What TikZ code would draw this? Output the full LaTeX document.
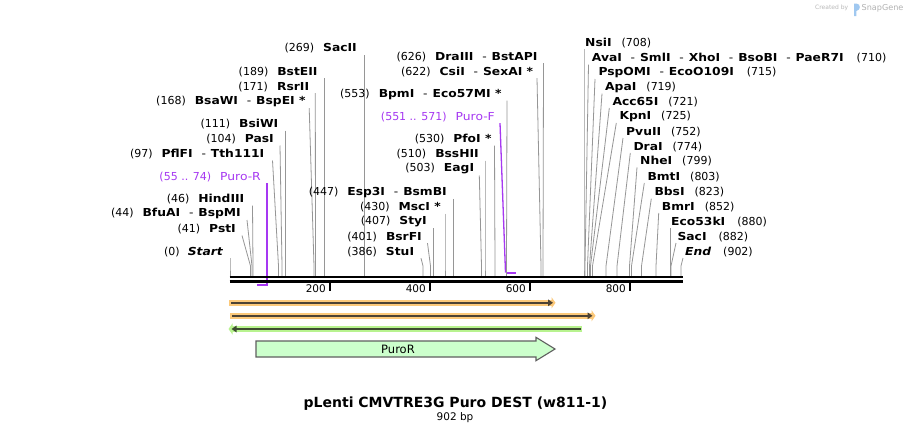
\documentclass[tikz,border=0pt]{standalone}
\usepackage{fontspec}
\setmainfont{DejaVu Sans}
\newfontfamily\enzf[FakeStretch=1.12]{DejaVu Sans}
\usetikzlibrary{arrows.meta}
\definecolor{enzgray}{RGB}{150,150,150}
\definecolor{purp}{RGB}{166,56,242}
\definecolor{orband}{RGB}{252,201,122}
\definecolor{grband}{RGB}{184,243,143}
\definecolor{darkln}{RGB}{76,66,52}
\definecolor{darkgr}{RGB}{62,76,50}
\definecolor{purofill}{RGB}{204,255,204}
\definecolor{purodraw}{RGB}{95,95,95}
\definecolor{logoblue}{RGB}{160,200,240}
\newcommand\enzname[1]{{\enzf\bfseries #1}}
\newcommand\enzdash{\hspace{0.8em}{\mdseries -}\hspace{0.45em}}
\tikzset{
  enz/.style={draw=enzgray, line width=0.8pt},
  lblL/.style={anchor=east, inner sep=0pt, font=\fontsize{11}{13}\selectfont},
  lblR/.style={anchor=west, inner sep=0pt, font=\fontsize{11}{13}\selectfont},
  primerthin/.style={draw=purp, line width=1.3pt},
  primerthick/.style={draw=purp, line width=2pt},
  backbone/.style={draw=black, line width=2.6pt},
  tickmark/.style={draw=black, line width=1.8pt},
  ticklbl/.style={anchor=east, inner sep=0pt, font=\fontsize{10.5}{12}\selectfont},
}
% id, bp, text-end x, text-centre y, dx to line top, label
\newcommand\EnzL[6]{%
  \node[lblL] (n#1) at (#3,#4) {#6};
  \coordinate (k#1) at ({230+0.5*#2},266);
  \coordinate (c#1) at ({230+0.5*#2},276);
  \draw[enz] ([shift={(#5,6.5)}]n#1.east) -- (k#1) -- (c#1);
}
% id, bp, text-start x, text-centre y, dx to line top, label
\newcommand\EnzR[6]{%
  \node[lblR] (n#1) at (#3,#4) {#6};
  \coordinate (k#1) at ({230+0.5*#2},266);
  \coordinate (c#1) at ({230+0.5*#2},276);
  \draw[enz] ([shift={(-#5,6.3)}]n#1.west) -- (k#1) -- (c#1);
}
\begin{document}
\begin{tikzpicture}[x=1pt,y=-1pt]
\useasboundingbox (0,0) rectangle (912,434);
\fill[white] (0,0) rectangle (912,434);

% created by
\node[anchor=west, inner sep=0pt, text=gray!55, font=\fontsize{6}{7}\selectfont] (cb) at (815,8.3) {Created by};
\fill[logoblue] (854,3.5) -- (854,16) -- (856.3,16) -- (856.3,11) .. controls (861,10.5) and (861,3.5) .. (856.3,3.5) -- cycle;
\node[anchor=west, inner sep=0pt, text=gray!60, font=\fontsize{8.1}{9}\selectfont] (sg) at (861.5,8.3) {SnapGene};

% primers
\node[lblL, text=purp] (nPR) at (261,176.7) {(55 .. 74)\hspace{9pt}{\enzf Puro-R}};
\coordinate (pr2) at (267,284.5);
\coordinate (pr3) at (257,284.5);
\draw[primerthin] ([shift={(6,6.3)}]nPR.east) -- (pr2);
\draw[primerthick] ([xshift=0.65pt]pr2) -- (pr3);

\node[lblL, text=purp] (nPF) at (495,117.3) {(551 .. 571)\hspace{9pt}{\enzf Puro-F}};
\coordinate (pf2) at (505.5,272.5);
\coordinate (pf3) at (515.5,272.5);
\draw[primerthin] ([shift={(5,5.8)}]nPF.east) -- (pf2);
\draw[primerthick] (pf2) -- (pf3);

% left enzymes
\EnzL{L1}{0}{223}{251.7}{7}{(0)\hspace{8pt}{\enzf\bfseries\itshape Start}}
\EnzL{L2}{41}{236}{229}{6}{(41)\hspace{9pt}\enzname{PstI}}
\EnzL{L3}{44}{241}{213.5}{6}{(44)\hspace{9pt}\enzname{BfuAI\enzdash BspMI}}
\EnzL{L4}{46}{244.5}{199}{8}{(46)\hspace{9pt}\enzname{HindIII}}
\EnzL{L6}{97}{264.5}{154}{8}{(97)\hspace{9pt}\enzname{PflFI\enzdash Tth111I}}
\EnzL{L7}{104}{274}{139}{6}{(104)\hspace{9pt}\enzname{PasI}}
\EnzL{L8}{111}{278.5}{124}{7}{(111)\hspace{9pt}\enzname{BsiWI}}
\EnzL{L9}{168}{305.7}{101.7}{3.5}{(168)\hspace{9pt}\enzname{BsaWI\enzdash BspEI *}}
\EnzL{L10}{171}{309.3}{86.7}{6}{(171)\hspace{9pt}\enzname{RsrII}}
\EnzL{L11}{189}{317.7}{71.7}{6.8}{(189)\hspace{9pt}\enzname{BstEII}}
\EnzL{L12}{269}{357}{48.5}{7.5}{(269)\hspace{9pt}\enzname{SacII}}

% middle enzymes
\EnzL{M1}{386}{414.3}{251.7}{6.7}{(386)\hspace{9pt}\enzname{StuI}}
\EnzL{M2}{401}{422}{236.7}{5.5}{(401)\hspace{9pt}\enzname{BsrFI}}
\EnzL{M3}{407}{427}{221.7}{6.5}{(407)\hspace{9pt}\enzname{StyI}}
\EnzL{M4}{430}{441}{207.3}{4}{(430)\hspace{9pt}\enzname{MscI *}}
\EnzL{M5}{447}{447}{192.3}{6.5}{(447)\hspace{9pt}\enzname{Esp3I\enzdash BsmBI}}
\EnzL{M6}{503}{474.3}{169}{5}{(503)\hspace{9pt}\enzname{EagI}}
\EnzL{M7}{510}{479}{154}{6}{(510)\hspace{9pt}\enzname{BssHII}}
\EnzL{M8}{530}{491.7}{139}{2.8}{(530)\hspace{9pt}\enzname{PfoI *}}
\EnzL{M10}{553}{501.7}{94}{5.3}{(553)\hspace{9pt}\enzname{BpmI\enzdash Eco57MI *}}
\EnzL{M11}{622}{533.3}{71.7}{3.7}{(622)\hspace{9pt}\enzname{CsiI\enzdash SexAI *}}
\EnzL{M12}{626}{537.7}{56.7}{5.8}{(626)\hspace{9pt}\enzname{DraIII\enzdash BstAPI}}

% right enzymes
\EnzR{R1}{708}{585}{42.7}{1}{\enzname{NsiI}\hspace{10pt}(708)}
\EnzR{R2}{710}{591.7}{58.3}{3.2}{\enzname{AvaI\enzdash SmlI\enzdash XhoI\enzdash BsoBI\enzdash PaeR7I}\hspace{13pt}(710)}
\EnzR{R3}{715}{598.3}{72.7}{3.3}{\enzname{PspOMI\enzdash EcoO109I}\hspace{13pt}(715)}
\EnzR{R4}{719}{605}{87.3}{3}{\enzname{ApaI}\hspace{10pt}(719)}
\EnzR{R5}{721}{612.3}{101.7}{3}{\enzname{Acc65I}\hspace{10pt}(721)}
\EnzR{R6}{725}{619.3}{116.7}{3}{\enzname{KpnI}\hspace{10pt}(725)}
\EnzR{R7}{752}{626}{131.7}{3}{\enzname{PvuII}\hspace{10pt}(752)}
\EnzR{R8}{774}{633.3}{146.7}{3}{\enzname{DraI}\hspace{10pt}(774)}
\EnzR{R9}{799}{640}{161}{3}{\enzname{NheI}\hspace{10pt}(799)}
\EnzR{R10}{803}{647.3}{176.7}{3}{\enzname{BmtI}\hspace{10pt}(803)}
\EnzR{R11}{823}{654.3}{192.3}{3}{\enzname{BbsI}\hspace{10pt}(823)}
\EnzR{R12}{852}{661.7}{206.7}{3}{\enzname{BmrI}\hspace{10pt}(852)}
\EnzR{R13}{880}{671}{221.7}{1}{\enzname{Eco53kI}\hspace{12pt}(880)}
\EnzR{R14}{882}{677.3}{236.7}{1.3}{\enzname{SacI}\hspace{12pt}(882)}
\EnzR{R15}{902}{685}{251.7}{2}{{\enzf\bfseries\itshape End}\hspace{12pt}(902)}

% backbone
\draw[backbone] (229.5,277) -- (682.5,277);
\draw[backbone] (229.5,281.2) -- (682.5,281.2);

% ticks
\foreach \v/\xx in {200/330,400/430,600/530,800/630}{
  \draw[tickmark] (\xx,282) -- (\xx,290.5);
  \node[ticklbl] (tk\v) at (\xx-4,289) {\v};
}

% features
\draw[orband, line width=5.6pt, -{Triangle[length=4pt,width=11pt]}] (229,302.8) -- (555.5,302.8);
\draw[darkln, line width=1.8pt, -{Triangle[length=5pt,width=6.5pt]}] (231,302.8) -- (553,302.8);

\draw[orband, line width=5.6pt, -{Triangle[length=4pt,width=11pt]}] (230,315.8) -- (595.5,315.8);
\draw[darkln, line width=1.8pt, -{Triangle[length=5pt,width=6.5pt]}] (232,315.8) -- (592.5,315.8);

\draw[grband, line width=5.6pt, -{Triangle[length=4pt,width=11pt]}] (582,329) -- (228.5,329);
\draw[darkgr, line width=1.8pt, -{Triangle[length=5pt,width=6.5pt]}] (580.5,329) -- (231.5,329);

\draw[fill=purofill, draw=purodraw, line width=1.1pt, line join=miter]
  (256,341) -- (536,341) -- (536,337.3) -- (555,349) -- (536,360.7) -- (536,357) -- (256,357) -- cycle;
\node[inner sep=0pt, font=\fontsize{11.5}{13}\selectfont] (puroR) at (398,349) {PuroR};

% title
\node[inner sep=0pt, font=\fontsize{14}{16}\bfseries] (title) at (455.5,403.3) {pLenti CMVTRE3G Puro DEST (w811-1)};
\node[inner sep=0pt, font=\fontsize{10.5}{12}\selectfont] (bp) at (455,417.8) {902 bp};
\end{tikzpicture}
\end{document}
